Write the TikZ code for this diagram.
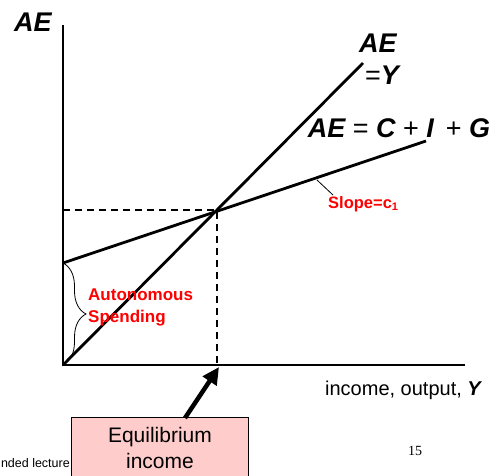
\documentclass[tikz,border=0pt]{standalone}
\usepackage{fontspec}
\setmainfont{Liberation Sans}
\newfontfamily\timesfont{Liberation Serif}
\usetikzlibrary{arrows.meta,decorations.pathreplacing}
\newcommand{\bi}[1]{{\bfseries\itshape #1}}
\begin{document}
\begin{tikzpicture}[x=1pt,y=-1pt,
  axisline/.style={line width=2.8pt},
  curveline/.style={line width=2.8pt},
  guide/.style={line width=1.8pt,dash pattern=on 7pt off 5pt},
  biglbl/.style={inner sep=0pt,font=\fontsize{27}{30}\selectfont},
  redlbl/.style={inner sep=0pt,text=red,font=\fontsize{16.5}{19}\selectfont\bfseries},
  boxstyle/.style={draw=black,line width=0.8pt,fill={rgb,255:red,255;green,204;blue,204},
    minimum width=177pt,minimum height=62pt,align=center,inner sep=0pt,
    font=\fontsize{21}{26}\selectfont}]
\useasboundingbox (0,0) rectangle (493,475);
\clip (0,0) rectangle (493,475);
% coordinates
\coordinate (O) at (63,365);
\coordinate (ytop) at (63,25);
\coordinate (xend) at (465,365);
\coordinate (A) at (63,263);
\coordinate (E) at (217,210);
\coordinate (Ey) at (63,210);
\coordinate (Ex) at (217,365);
\coordinate (L45) at (363,63);
\coordinate (LAE) at (426,141);
\coordinate (sl1) at (317,180);
\coordinate (sl2) at (333,195);
\coordinate (arrtail) at (185,418);
\coordinate (arrtip) at (219,367);
% axes
\draw[axisline] (ytop) -- (O) -- (xend);
% dashed guides
\draw[guide] (Ey) -- (E) -- (Ex);
% lines
\draw[curveline] (O) -- (L45);
\draw[curveline] (A) -- (LAE);
% slope pointer
\draw[line width=0.8pt] (sl1) -- (sl2);
% brace
\draw[line width=0.8pt,decorate,decoration={brace,amplitude=23pt,aspect=0.5}] (A) -- (O);
% labels
\node[biglbl] (aeY) at (33,22) {\bi{AE}};
\node[biglbl] (ae1) at (378,43) {\bi{AE}};
\node[biglbl] (eqY) at (382,75) {=\bi{Y}};
\node[biglbl] (aeC) at (399,128) {\bi{AE} = \bi{C} + \bi{I}\, + \bi{G}};
\node[redlbl,anchor=west] (slope) at (328,204) {Slope=c\textsubscript{\fontsize{11}{12}\selectfont 1}};
\node[redlbl,anchor=west,align=left,font=\fontsize{17}{22}\selectfont\bfseries] (auto) at (88,307) {Autonomous\\Spending};
\node[inner sep=0pt,font=\fontsize{20}{23}\selectfont] (xlbl) at (403,390) {income, output, \bi{Y}};
\node[inner sep=0pt,font=\timesfont\fontsize{14}{16}\selectfont] (pg) at (415,451) {15};
\node[inner sep=0pt,anchor=base east,font=\fontsize{12.5}{14}\selectfont] (foot) at (70,467) {nded lecture};
% box
\node[boxstyle] (eq) at (160,448) {Equilibrium\\income};
\draw[line width=4.5pt,-{Triangle[length=17pt,width=16pt]}] (arrtail) -- (arrtip);
\end{tikzpicture}
\end{document}
